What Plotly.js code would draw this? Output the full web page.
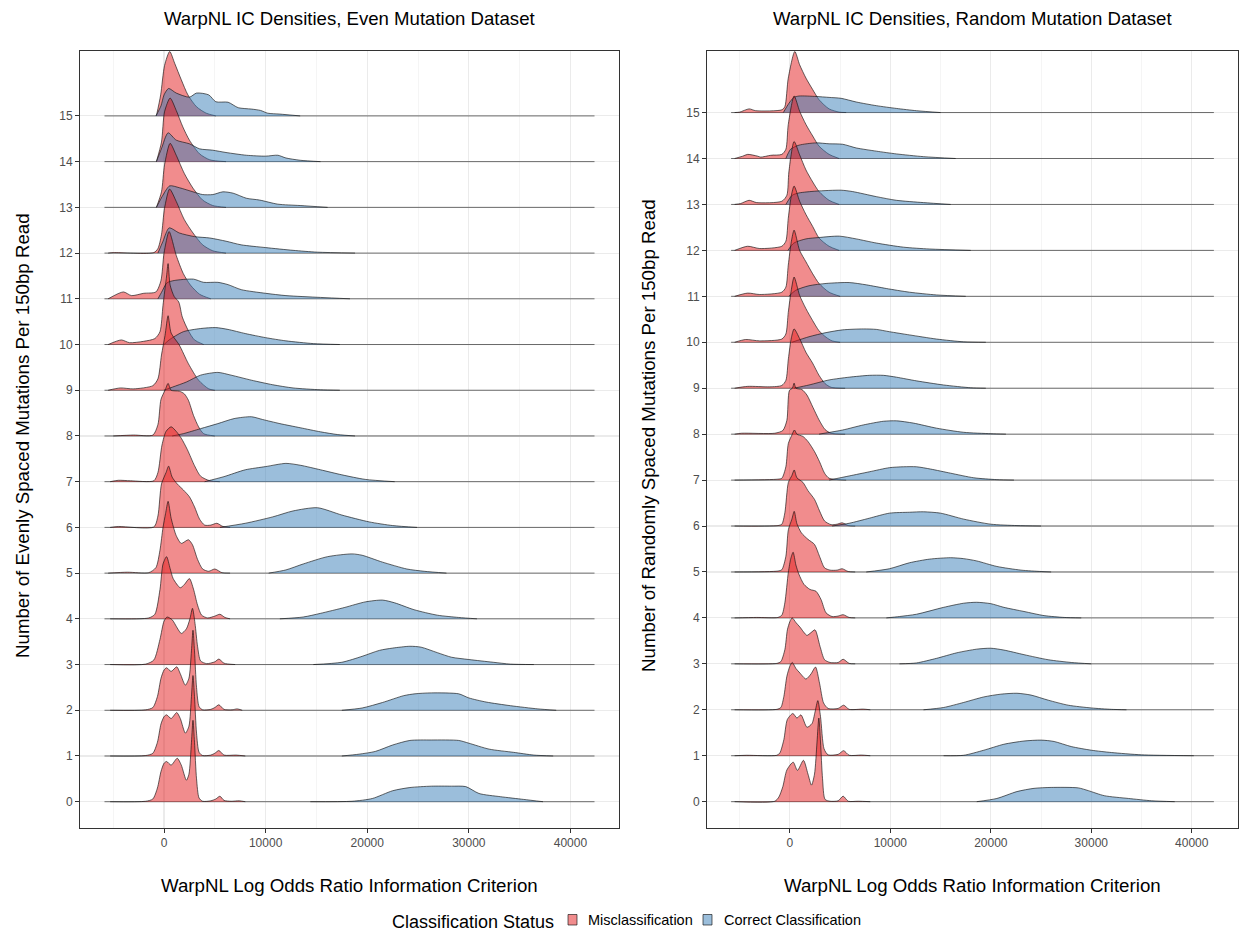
<!DOCTYPE html>
<html><head><meta charset="utf-8">
<script src="https://cdn.plot.ly/plotly-3.0.1.min.js"></script>
<style>html,body{margin:0;padding:0;background:#fff}#chart{width:1241px;height:935px}</style>
</head><body><div id="chart"></div>
<script>
// ---------------- DATA ----------------
const rowLabels = ['0','1','2','3','4','5','6','7','8','9','10','11','12','13','14','15'];
const xTickVals = [0, 10000, 20000, 30000, 40000];
const xTickText = ['0', '10000', '20000', '30000', '40000'];
const statusLabels = ['Misclassification', 'Correct Classification'];
// x-extent of the density estimates (shared by all ridges of a panel)
const evenRange = [-5860, 42370];
const randomRange = [-5850, 42200];

// ridge heights ([x, scaled density]), index = number of mutations
const evenRed = [
 [[-5300,0],[-1800,0.01],[-1100,0.06],[-650,0.3],[-300,0.66],[0,0.84],[250,0.88],[700,0.8],[1300,0.95],[1700,0.8],[2200,0.47],[2450,0.6],[2700,1.3],[2850,1.78],[3000,1.3],[3200,0.5],[3450,0.08],[3800,0.01],[4600,0.02],[5100,0.06],[5500,0.12],[5900,0.03],[6600,0.01],[7400,0.02],[8000,0]],
 [[-5300,0],[-1800,0.01],[-1100,0.06],[-650,0.3],[-300,0.7],[0,0.86],[250,0.9],[700,0.82],[1250,0.95],[1600,0.82],[2100,0.5],[2450,0.65],[2700,1.3],[2850,1.76],[3000,1.3],[3200,0.5],[3450,0.08],[3800,0.01],[4600,0.02],[5000,0.06],[5400,0.12],[5900,0.02],[7100,0.02],[8000,0]],
 [[-5300,0],[-1800,0.01],[-1100,0.06],[-650,0.3],[-300,0.7],[0,0.88],[250,0.93],[700,0.85],[1250,0.95],[1600,0.8],[2100,0.55],[2450,0.7],[2700,1.3],[2850,1.75],[3000,1.3],[3200,0.5],[3450,0.08],[3800,0.01],[4600,0.02],[5000,0.06],[5400,0.12],[5900,0.02],[6700,0.01],[7200,0.03],[7700,0]],
 [[-5300,0],[-1800,0.01],[-1000,0.1],[-400,0.55],[0,0.95],[300,1.04],[800,0.98],[1300,0.8],[1700,0.68],[2200,0.78],[2550,1.0],[2800,1.23],[3050,0.9],[3300,0.4],[3600,0.08],[4200,0.02],[5000,0.06],[5400,0.12],[5900,0.03],[7000,0]],
 [[-5300,0],[-1500,0.02],[-900,0.1],[-400,0.64],[-100,1.2],[250,1.36],[600,1.1],[900,0.88],[1600,0.68],[2000,0.75],[2500,0.88],[2900,0.65],[3300,0.3],[3700,0.08],[4300,0.02],[5000,0.06],[5500,0.1],[6000,0.03],[6500,0]],
 [[-5500,0],[-3600,0.02],[-1500,0.01],[-800,0.12],[-400,0.5],[-100,1.0],[150,1.3],[400,1.57],[700,1.2],[1200,0.82],[1700,0.65],[2400,0.73],[2800,0.62],[3300,0.3],[3800,0.09],[4400,0.04],[5000,0.09],[5700,0.01],[6500,0]],
 [[-5300,0],[-4500,0.02],[-1000,0.01],[-600,0.25],[-250,0.95],[200,1.2],[450,1.34],[800,1.1],[1300,0.95],[1900,0.82],[2500,0.67],[3000,0.45],[3500,0.18],[4000,0.05],[4600,0.05],[5200,0.09],[5800,0.02],[6500,0]],
 [[-5300,0],[-4500,0.03],[-3300,0.02],[-1000,0.02],[-600,0.2],[-200,0.8],[200,1.1],[700,1.2],[1200,1.1],[1700,0.95],[2300,0.7],[3000,0.35],[3600,0.12],[4500,0.02],[5500,0]],
 [[-5000,0],[-3000,0.02],[-1100,0.02],[-600,0.25],[-300,0.8],[100,1.0],[400,1.15],[700,1.0],[1500,0.98],[2000,0.92],[2400,0.78],[2900,0.45],[3400,0.2],[3900,0.05],[5000,0]],
 [[-5500,0],[-4300,0.05],[-3000,0.03],[-1100,0.1],[-600,0.25],[-250,0.77],[100,1.2],[400,1.63],[700,1.25],[1500,0.99],[2400,0.58],[3400,0.22],[4400,0.03],[5000,0]],
 [[-5500,0],[-4200,0.1],[-3400,0.04],[-2000,0.07],[-900,0.13],[-400,0.28],[-100,0.86],[250,1.5],[400,1.77],[600,1.3],[1000,1.05],[1450,0.93],[1800,0.6],[2400,0.3],[3000,0.1],[3900,0]],
 [[-5500,0],[-4000,0.15],[-3200,0.07],[-2000,0.12],[-800,0.15],[-300,0.4],[0,1.0],[500,1.47],[1200,0.95],[1900,0.55],[2600,0.3],[3500,0.1],[4600,0]],
 [[-5500,0],[-5000,0.01],[-1000,0.01],[-600,0.1],[-250,0.4],[50,0.98],[550,1.4],[1200,1.13],[2000,0.73],[2850,0.44],[3800,0.18],[4800,0.05],[6100,0]],
 [[-750,0],[-250,0.34],[50,0.93],[600,1.4],[1200,1.14],[2000,0.74],[2850,0.42],[3800,0.16],[4800,0.04],[6100,0]],
 [[-750,0],[-250,0.43],[50,1.09],[600,1.39],[1200,1.12],[1850,0.76],[2500,0.47],[3500,0.17],[4500,0.04],[6100,0]],
 [[-750,0],[-330,0.46],[50,1.1],[560,1.41],[1050,1.15],[1700,0.79],[2350,0.46],[3200,0.2],[4150,0.06],[5100,0]]
];
const evenBlue = [
 [[14400,0],[18500,0.01],[20500,0.07],[22500,0.24],[24200,0.31],[26300,0.34],[28300,0.34],[29700,0.33],[31000,0.18],[33100,0.11],[35400,0.05],[37300,0]],
 [[17500,0],[19200,0.04],[20800,0.1],[22500,0.24],[24200,0.34],[26300,0.35],[29000,0.34],[30000,0.28],[32000,0.15],[34400,0.08],[36400,0.02],[38300,0]],
 [[17500,0],[19500,0.05],[21500,0.17],[23600,0.32],[24700,0.36],[26300,0.38],[29000,0.36],[30000,0.27],[31700,0.18],[34100,0.1],[36800,0.03],[38600,0]],
 [[14700,0],[17500,0.05],[19500,0.18],[21200,0.31],[22500,0.36],[24200,0.4],[25300,0.38],[26900,0.26],[28300,0.16],[30000,0.11],[32400,0.05],[34100,0.01],[36400,0]],
 [[11400,0],[13700,0.04],[15400,0.12],[17800,0.25],[19800,0.37],[21500,0.41],[22700,0.35],[24600,0.2],[26900,0.08],[29000,0.03],[30800,0]],
 [[10300,0],[12000,0.07],[13700,0.2],[16100,0.36],[18500,0.42],[19500,0.39],[21500,0.24],[23900,0.09],[25600,0.04],[27800,0]],
 [[5500,0],[8000,0.09],[10700,0.23],[12700,0.36],[15100,0.43],[17500,0.27],[20200,0.12],[22500,0.04],[24900,0]],
 [[4000,0],[5900,0.11],[8000,0.26],[10000,0.33],[12000,0.4],[13400,0.36],[15400,0.26],[17500,0.15],[19800,0.05],[22700,0]],
 [[800,0],[1900,0.05],[3600,0.16],[5300,0.27],[6900,0.38],[8600,0.42],[9700,0.36],[11400,0.27],[13400,0.18],[15400,0.09],[17100,0.03],[18800,0]],
 [[0,0],[850,0.07],[2200,0.18],[3600,0.33],[5300,0.39],[6600,0.33],[8600,0.22],[10700,0.12],[12700,0.05],[15400,0.01],[17300,0]],
 [[0,0],[500,0.1],[1900,0.28],[3600,0.35],[5100,0.37],[6300,0.33],[8000,0.24],[10000,0.15],[12000,0.08],[14700,0.02],[17300,0]],
 [[-600,0],[-250,0.14],[300,0.35],[1000,0.4],[2900,0.43],[3900,0.36],[5300,0.36],[6300,0.31],[7600,0.2],[10000,0.12],[12000,0.07],[15400,0.03],[18300,0]],
 [[-600,0],[-100,0.26],[500,0.55],[1500,0.44],[3000,0.36],[4500,0.33],[6100,0.26],[7600,0.18],[10000,0.12],[12700,0.06],[15100,0.02],[18800,0]],
 [[-750,0],[-100,0.27],[560,0.47],[1500,0.43],[2850,0.34],[3800,0.28],[4800,0.28],[5800,0.34],[6800,0.31],[8100,0.2],[9400,0.16],[11200,0.07],[13400,0.04],[16100,0]],
 [[-750,0],[-260,0.28],[400,0.63],[1200,0.47],[2500,0.39],[3500,0.28],[4800,0.25],[6100,0.2],[8100,0.14],[10000,0.12],[11200,0.14],[12000,0.08],[13400,0.03],[15400,0]],
 [[-800,0],[-300,0.22],[0,0.46],[450,0.6],[1200,0.5],[2500,0.41],[3200,0.5],[4400,0.46],[5100,0.31],[6300,0.3],[7300,0.18],[8600,0.15],[9500,0.12],[10200,0.06],[11400,0.04],[13400,0]]
];
const randomRed = [
 [[-5500,0],[-1500,0.01],[-1100,0.1],[-700,0.33],[-300,0.69],[330,0.86],[750,0.68],[1350,0.9],[1800,0.6],[2150,0.36],[2450,0.6],[2700,1.3],[2880,1.82],[3050,1.3],[3250,0.5],[3500,0.05],[4000,0.01],[4800,0.02],[5300,0.12],[5800,0.01],[6800,0.01],[8000,0]],
 [[-5500,0],[-4300,0.01],[-1300,0.01],[-1000,0.06],[-600,0.35],[-250,0.79],[300,0.92],[700,0.82],[1100,0.89],[1700,0.62],[2200,0.7],[2500,0.95],[2780,1.2],[3050,0.85],[3400,0.15],[3800,0.02],[4800,0.03],[5350,0.11],[5900,0.01],[7100,0.015],[8000,0]],
 [[-5500,0],[-1300,0.01],[-900,0.05],[-600,0.29],[-300,0.73],[0,0.95],[230,1.03],[600,0.9],[1000,0.8],[1600,0.67],[2100,0.78],[2550,0.93],[2950,0.58],[3350,0.15],[3800,0.03],[4800,0.03],[5350,0.1],[5900,0.01],[7300,0.015],[8000,0]],
 [[-5500,0],[-1300,0.01],[-900,0.05],[-500,0.31],[-250,0.74],[0,0.92],[230,1.0],[600,0.9],[1000,0.8],[1700,0.62],[2100,0.68],[2500,0.74],[3000,0.38],[3450,0.09],[4000,0.03],[4800,0.03],[5300,0.1],[5900,0.01],[6500,0]],
 [[-5500,0],[-3300,0.01],[-1200,0.01],[-800,0.06],[-500,0.33],[-150,1.0],[100,1.3],[320,1.43],[600,1.15],[900,0.95],[1400,0.73],[2000,0.62],[2600,0.58],[3100,0.4],[3600,0.11],[4200,0.03],[4800,0.04],[5300,0.07],[5900,0.01],[6500,0]],
 [[-5500,0],[-1200,0.02],[-800,0.05],[-400,0.34],[-150,0.92],[200,1.15],[430,1.32],[700,1.05],[1150,0.85],[1800,0.71],[2450,0.6],[2950,0.34],[3450,0.09],[4000,0.04],[4700,0.04],[5200,0.07],[5800,0.01],[6500,0]],
 [[-5500,0],[-1200,0.01],[-800,0.04],[-500,0.29],[-150,0.95],[200,1.1],[430,1.22],[700,1.05],[1300,0.95],[1800,0.77],[2450,0.58],[2950,0.33],[3450,0.11],[4100,0.03],[4700,0.04],[5200,0.07],[5800,0.01],[6500,0]],
 [[-5500,0],[-1200,0.02],[-800,0.04],[-400,0.29],[-150,0.8],[200,0.98],[450,1.09],[700,1.0],[1300,0.95],[1800,0.84],[2450,0.62],[2950,0.4],[3450,0.15],[3900,0.04],[4800,0.01],[5600,0]],
 [[-5500,0],[-4800,0.02],[-1500,0.02],[-700,0.08],[-300,0.3],[-50,0.95],[250,1.0],[420,1.11],[600,1.0],[1200,0.97],[1700,0.85],[2300,0.58],[2900,0.31],[3500,0.1],[4100,0.02],[5500,0]],
 [[-5500,0],[-4200,0.04],[-2000,0.03],[-800,0.06],[-400,0.17],[-150,0.64],[150,1.1],[420,1.29],[970,1.08],[1600,0.78],[2250,0.55],[2900,0.28],[3500,0.1],[4100,0.02],[5500,0]],
 [[-5500,0],[-4400,0.06],[-3000,0.03],[-800,0.07],[-400,0.18],[-160,0.65],[150,1.15],[420,1.42],[970,1.02],[1600,0.73],[2270,0.47],[2900,0.25],[3600,0.11],[4200,0.03],[5000,0]],
 [[-5500,0],[-4200,0.07],[-3000,0.04],[-800,0.09],[-400,0.2],[-160,0.68],[150,1.2],[420,1.44],[970,1.0],[1600,0.75],[2270,0.49],[2900,0.28],[3900,0.09],[5000,0]],
 [[-5500,0],[-4200,0.09],[-3000,0.04],[-800,0.09],[-400,0.2],[-160,0.7],[150,1.2],[420,1.4],[970,1.07],[1600,0.78],[2270,0.52],[2900,0.27],[3900,0.09],[4900,0]],
 [[-5500,0],[-4900,0.02],[-4060,0.09],[-3300,0.04],[-800,0.07],[-300,0.2],[-100,0.71],[420,1.37],[970,1.08],[1600,0.75],[2270,0.49],[2900,0.28],[3900,0.09],[4900,0]],
 [[-5500,0],[-4700,0.05],[-4200,0.09],[-3200,0.05],[-2900,0.03],[-1900,0.07],[-800,0.09],[-400,0.2],[-160,0.74],[420,1.36],[970,1.03],[1600,0.74],[2270,0.49],[2900,0.27],[3900,0.09],[4900,0]],
 [[-5500,0],[-5000,0.01],[-4060,0.08],[-3400,0.04],[-800,0.06],[-500,0.13],[-160,0.75],[490,1.33],[970,1.04],[1600,0.75],[2270,0.5],[2900,0.28],[3900,0.08],[4900,0.01],[5600,0]]
];
const randomBlue = [
 [[18600,0],[20600,0.07],[22600,0.22],[24300,0.29],[26000,0.31],[28700,0.3],[29700,0.24],[31300,0.13],[33700,0.07],[36000,0.02],[38300,0]],
 [[15300,0],[17300,0.01],[19300,0.12],[21300,0.25],[23300,0.32],[25000,0.34],[26300,0.31],[28000,0.2],[30000,0.12],[32000,0.07],[35000,0.02],[40200,0]],
 [[13300,0],[15300,0.05],[17300,0.16],[19300,0.28],[21000,0.34],[22600,0.36],[24000,0.32],[25700,0.21],[27700,0.1],[30000,0.04],[32000,0.01],[33500,0]],
 [[10900,0],[12600,0.02],[14600,0.12],[16600,0.24],[18600,0.32],[20000,0.34],[21300,0.3],[23300,0.2],[25700,0.09],[28000,0.03],[30000,0]],
 [[9600,0],[10900,0.03],[12600,0.08],[15300,0.23],[17300,0.32],[18600,0.34],[20000,0.31],[21300,0.23],[23300,0.14],[25300,0.05],[27300,0.01],[29000,0]],
 [[7600,0],[9900,0.07],[11900,0.2],[13900,0.28],[16000,0.31],[17300,0.29],[18600,0.24],[20600,0.12],[23000,0.04],[25000,0.01],[26000,0]],
 [[4200,0],[5900,0.06],[7900,0.17],[9900,0.28],[11900,0.3],[13300,0.31],[15000,0.28],[17300,0.15],[20000,0.04],[22600,0.01],[25000,0]],
 [[3900,0],[5900,0.09],[7900,0.18],[9900,0.27],[11300,0.29],[12600,0.29],[14000,0.24],[16000,0.15],[18300,0.05],[20600,0.01],[22300,0]],
 [[2900,0],[5250,0.09],[7300,0.2],[9300,0.28],[10600,0.29],[12300,0.24],[14600,0.13],[17300,0.04],[20000,0.01],[21500,0]],
 [[400,0],[1900,0.07],[3900,0.18],[5900,0.24],[7900,0.28],[9300,0.28],[10600,0.24],[12600,0.16],[15300,0.07],[18000,0.01],[19500,0]],
 [[200,0],[1900,0.12],[3600,0.21],[5250,0.27],[7300,0.29],[8600,0.28],[9900,0.23],[11900,0.16],[14600,0.07],[17300,0.01],[19500,0]],
 [[-100,0],[570,0.13],[1900,0.23],[3600,0.28],[5900,0.3],[7600,0.25],[9600,0.17],[11900,0.09],[14600,0.03],[17500,0]],
 [[-200,0],[400,0.16],[1600,0.25],[2900,0.28],[4900,0.31],[6600,0.25],[8600,0.16],[11300,0.07],[13900,0.03],[18000,0]],
 [[-400,0],[230,0.2],[900,0.25],[2600,0.29],[5100,0.31],[6250,0.28],[8600,0.17],[10600,0.09],[13300,0.04],[16000,0]],
 [[-400,0],[70,0.2],[900,0.29],[2600,0.34],[3900,0.32],[5250,0.31],[6600,0.23],[8600,0.16],[10600,0.1],[13300,0.04],[16500,0]],
 [[-650,0],[-100,0.2],[400,0.33],[900,0.36],[2600,0.35],[3900,0.33],[5100,0.31],[6600,0.23],[8600,0.15],[10600,0.09],[12600,0.04],[15000,0]]
];

// ---------------- STYLE ----------------
const FONT = 'Liberation Sans, Arial, sans-serif';
const RED_FILL = 'rgba(228,26,28,0.5)';
const BLUE_FILL = 'rgba(55,126,184,0.5)';
const OUTLINE = 'rgba(15,15,15,0.85)';
const BASELINE = 'rgba(30,30,30,0.8)';
const W = 1241, H = 935;
const px = v => v / W;
const py = v => 1 - v / H;

const traces = [];
function addPanel(redSet, blueSet, range, xa, ya) {
  for (let r = rowLabels.length - 1; r >= 0; r--) {
    // baseline of the ridge across the whole estimation range
    traces.push({
      type: 'scatter', mode: 'lines', x: range, y: [r, r], xaxis: xa, yaxis: ya,
      line: {color: BASELINE, width: 0.8}, hoverinfo: 'skip', showlegend: false
    });
    [[redSet[r], RED_FILL], [blueSet[r], BLUE_FILL]].forEach(([pts, col]) => {
      traces.push({
        type: 'scatter', mode: 'lines', x: pts.map(p => p[0]), y: pts.map(p => r + p[1]),
        xaxis: xa, yaxis: ya, fill: 'toself', fillcolor: col,
        line: {color: OUTLINE, width: 0.75, shape: 'spline', smoothing: 0.7},
        hoverinfo: 'skip', showlegend: false
      });
    });
  }
}
addPanel(evenRed, evenBlue, evenRange, 'x', 'y');
addPanel(randomRed, randomBlue, randomRange, 'x2', 'y2');

function xAxis(domain, range, anchor) {
  return {
    domain: domain, range: range, anchor: anchor, tickmode: 'array', tickvals: xTickVals, ticktext: xTickText,
    ticks: 'outside', ticklen: 4, tickwidth: 1, tickcolor: '#333333',
    tickfont: {family: FONT, size: 12, color: '#4d4d4d'},
    showgrid: true, gridcolor: '#EBEBEB', gridwidth: 1.1,
    minor: {tickmode: 'linear', tick0: -5000, dtick: 10000, showgrid: true, gridcolor: '#F3F3F3', gridwidth: 0.8, ticks: ''},
    showline: true, linecolor: '#333333', linewidth: 1, mirror: true, zeroline: false, fixedrange: true
  };
}
function yAxis(range, anchor) {
  return {
    domain: [1 - 828 / H, 1 - 51 / H], range: range, anchor: anchor,
    tickmode: 'array', tickvals: rowLabels.map((_, i) => i), ticktext: rowLabels,
    ticks: 'outside', ticklen: 4, tickwidth: 1, tickcolor: '#333333',
    tickfont: {family: FONT, size: 12, color: '#4d4d4d'},
    showgrid: true, gridcolor: '#EBEBEB', gridwidth: 1.1,
    showline: true, linecolor: '#333333', linewidth: 1, mirror: true, zeroline: false, fixedrange: true
  };
}

const titleFont = {family: FONT, size: 18.6, color: '#000'};
const axisFont = {family: FONT, size: 18.7, color: '#000'};
const ann = (text, x, y, font, extra) => Object.assign({text: text, x: x, y: y, xref: 'paper', yref: 'paper', xanchor: 'center', yanchor: 'middle', showarrow: false, font: font}, extra || {});
const annotations = [
  ann('WarpNL IC Densities, Even Mutation Dataset', px((80 + 619) / 2), py(18), titleFont),
  ann('WarpNL IC Densities, Random Mutation Dataset', px((707 + 1238) / 2), py(18), titleFont),
  ann('WarpNL Log Odds Ratio Information Criterion', px((80 + 619) / 2), py(885), axisFont),
  ann('WarpNL Log Odds Ratio Information Criterion', px((707 + 1238) / 2), py(885), axisFont),
  ann('Number of Evenly Spaced Mutations Per 150bp Read', px(22), py(436), axisFont, {textangle: -90}),
  ann('Number of Randomly Spaced Mutations Per 150bp Read', px(648), py(436), axisFont, {textangle: -90}),
  ann('Classification Status', px(556), py(922), {family: FONT, size: 18, color: '#000'}, {xanchor: 'right'}),
  ann(statusLabels[0], px(586), py(920), {family: FONT, size: 14.5, color: '#000'}, {xanchor: 'left'}),
  ann(statusLabels[1], px(722), py(920), {family: FONT, size: 14.5, color: '#000'}, {xanchor: 'left'})
];
const shapes = [
  {type: 'rect', xref: 'paper', yref: 'paper', x0: px(568), x1: px(577), y0: py(925), y1: py(914.5), fillcolor: RED_FILL, line: {color: OUTLINE, width: 0.75}},
  {type: 'rect', xref: 'paper', yref: 'paper', x0: px(703), x1: px(712), y0: py(925), y1: py(914.5), fillcolor: BLUE_FILL, line: {color: OUTLINE, width: 0.75}}
];

const layout = {
  width: W, height: H, margin: {l: 0, r: 0, t: 0, b: 0},
  paper_bgcolor: '#ffffff', plot_bgcolor: '#ffffff', showlegend: false,
  font: {family: FONT},
  xaxis: xAxis([80 / W, 619 / W], [-8270, 44780], 'y'),
  yaxis: yAxis([-0.575, 16.42], 'x'),
  xaxis2: xAxis([707 / W, 1238 / W], [-8250, 44600], 'y2'),
  yaxis2: yAxis([-0.573, 16.34], 'x2'),
  annotations: annotations, shapes: shapes
};

Plotly.newPlot('chart', traces, layout, {staticPlot: true, displayModeBar: false});
</script>
</body></html>
